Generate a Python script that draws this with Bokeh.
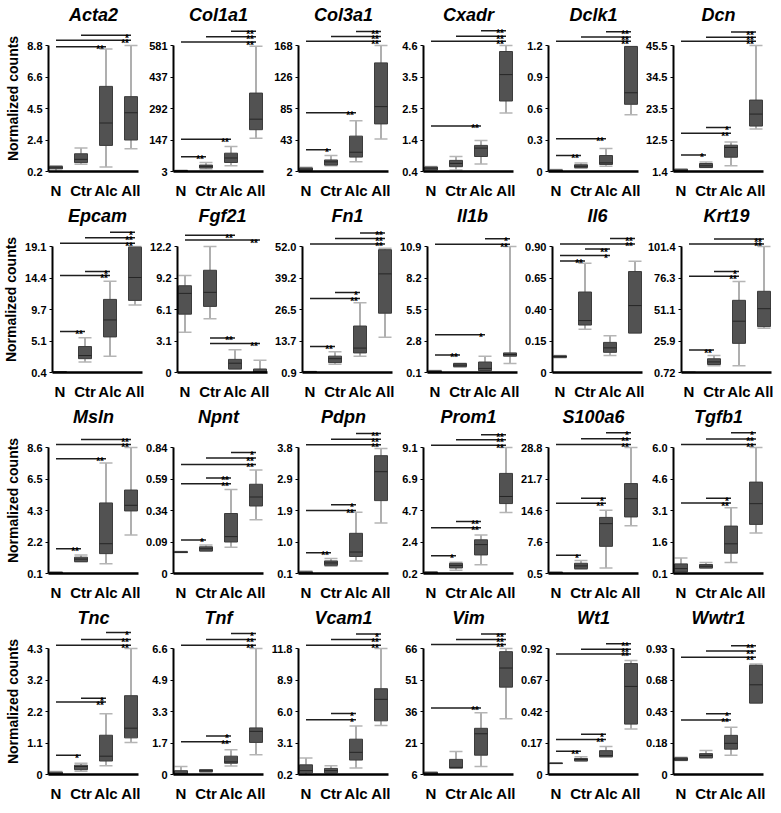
from bokeh.plotting import figure
from bokeh.layouts import column, row
from bokeh.models import FixedTicker, CustomJSTickFormatter, Range1d
from bokeh.core.properties import value
from bokeh.embed import file_html
from bokeh.resources import INLINE

groups = ["N", "Ctr", "Alc", "All"]

genes = ["Acta2", "Col1a1", "Col3a1", "Cxadr", "Dclk1", "Dcn",
         "Epcam", "Fgf21", "Fn1", "Il1b", "Il6", "Krt19",
         "Msln", "Npnt", "Pdpn", "Prom1", "S100a6", "Tgfb1",
         "Tnc", "Tnf", "Vcam1", "Vim", "Wt1", "Wwtr1"]

tick_labels = {
    "Acta2": ["0.2", "2.4", "4.5", "6.6", "8.8"],
    "Col1a1": ["3", "147", "292", "437", "581"],
    "Col3a1": ["2", "43", "85", "126", "168"],
    "Cxadr": ["0.4", "1.4", "2.5", "3.5", "4.6"],
    "Dclk1": ["0", "0.3", "0.6", "0.9", "1.2"],
    "Dcn": ["1.4", "12.5", "23.5", "34.5", "45.5"],
    "Epcam": ["0.4", "5.1", "9.7", "14.4", "19.1"],
    "Fgf21": ["0", "3.1", "6.1", "9.2", "12.2"],
    "Fn1": ["0.9", "13.7", "26.5", "39.2", "52.0"],
    "Il1b": ["0.1", "2.8", "5.5", "8.2", "10.9"],
    "Il6": ["0", "0.15", "0.40", "0.65", "0.90"],
    "Krt19": ["0.72", "25.9", "51.1", "76.3", "101.4"],
    "Msln": ["0.1", "2.2", "4.3", "6.5", "8.6"],
    "Npnt": ["0", "0.09", "0.34", "0.59", "0.84"],
    "Pdpn": ["0.1", "1.0", "1.9", "2.9", "3.8"],
    "Prom1": ["0.2", "2.4", "4.7", "6.9", "9.1"],
    "S100a6": ["0.5", "7.6", "14.6", "21.7", "28.8"],
    "Tgfb1": ["0.1", "1.6", "3.1", "4.6", "6.0"],
    "Tnc": ["0", "1.1", "2.2", "3.2", "4.3"],
    "Tnf": ["0", "1.7", "3.3", "4.9", "6.6"],
    "Vcam1": ["0.2", "3.1", "6.0", "8.9", "11.8"],
    "Vim": ["6", "21", "36", "51", "66"],
    "Wt1": ["0", "0.17", "0.42", "0.67", "0.92"],
    "Wwtr1": ["0", "0.18", "0.43", "0.68", "0.93"],
}

# box statistics per gene, in group order N, Ctr, Alc, All
whisker_low = {
    "Acta2": [0.22, 0.70, 0.51, 1.76], "Col1a1": [3, 14.8, 29.5, 155],
    "Col3a1": [2, 9.6, 14.7, 44.8], "Cxadr": [0.43, 0.45, 0.65, 2.35],
    "Dclk1": [0, 0.03, 0.05, 0.54], "Dcn": [1.4, 2.8, 3.4, 16.3],
    "Epcam": [0.4, 1.97, 2.83, 10.4], "Fgf21": [3.9, 5.2, 0.34, 0],
    "Fn1": [0.9, 4.28, 7.53, 15.2], "Il1b": [0.1, 0.57, 0.27, 0.87],
    "Il6": [0.105, 0.309, 0.121, 0.282], "Krt19": [0.72, 6.1, 6.1, 36.1],
    "Msln": [0.1, 0.9, 0.75, 2.7], "Npnt": [0.14, 0.148, 0.175, 0.359],
    "Pdpn": [0.1, 0.31, 0.47, 1.58], "Prom1": [0.2, 0.43, 0.81, 4.5],
    "S100a6": [0.5, 1.44, 1.72, 11.2], "Tgfb1": [0.175, 0.355, 0.62, 2.0],
    "Tnc": [0, 0.11, 0.3, 1.09], "Tnf": [0, 0.12, 0.45, 1.04],
    "Vcam1": [0.2, 0.26, 0.79, 4.7], "Vim": [6, 9.06, 9.8, 32.6],
    "Wt1": [0.08, 0.099, 0.129, 0.333], "Wwtr1": [0.104, 0.123, 0.142, 0.527],
}
q1 = {
    "Acta2": [0.38, 0.81, 1.98, 2.35], "Col1a1": [3, 19.2, 44.3, 194.7],
    "Col3a1": [3.3, 10.5, 21, 64.7], "Cxadr": [0.45, 0.56, 0.90, 2.75],
    "Dclk1": [0, 0.037, 0.067, 0.64], "Dcn": [1.4, 2.8, 6.4, 17.3],
    "Epcam": [0.4, 2.45, 5.68, 11.1], "Fgf21": [5.65, 6.4, 0.34, 0],
    "Fn1": [0.9, 4.93, 8.83, 24.95], "Il1b": [0.1, 0.6, 0.27, 1.5],
    "Il6": [0.108, 0.339, 0.144, 0.282], "Krt19": [0.72, 7.1, 24.0, 37.4],
    "Msln": [0.1, 0.9, 1.44, 4.32], "Npnt": [0.14, 0.15, 0.21, 0.45],
    "Pdpn": [0.1, 0.34, 0.6, 2.24], "Prom1": [0.2, 0.59, 1.51, 5.14],
    "S100a6": [0.5, 1.58, 6.6, 13.2], "Tgfb1": [0.175, 0.355, 1.05, 2.40],
    "Tnc": [0, 0.165, 0.46, 1.25], "Tnf": [0, 0.15, 0.59, 1.68],
    "Vcam1": [0.35, 0.35, 1.53, 5.14], "Vim": [6, 9.06, 15.2, 47.6],
    "Wt1": [0.081, 0.099, 0.129, 0.368], "Wwtr1": [0.104, 0.123, 0.187, 0.527],
}
median = {
    "Acta2": [0.45, 1.03, 3.51, 4.21], "Col1a1": [5, 26.6, 65, 243],
    "Col3a1": [5.0, 14.7, 27.4, 87.5], "Cxadr": [0.51, 0.67, 1.18, 3.63],
    "Dclk1": [0.008, 0.05, 0.082, 0.75], "Dcn": [1.7, 3.4, 9.8, 21.5],
    "Epcam": [0.45, 2.92, 8.2, 14.5], "Fgf21": [7.66, 7.76, 0.9, 0.09],
    "Fn1": [1.1, 6.5, 10.8, 40.9], "Il1b": [0.18, 0.73, 0.45, 1.64],
    "Il6": [0.114, 0.371, 0.176, 0.478], "Krt19": [0.8, 9.17, 41.7, 51.7],
    "Msln": [0.15, 1.07, 2.11, 4.7], "Npnt": [0.143, 0.165, 0.246, 0.51],
    "Pdpn": [0.12, 0.41, 0.73, 3.09], "Prom1": [0.25, 0.77, 2.24, 5.64],
    "S100a6": [0.65, 2.2, 11.7, 17.3], "Tgfb1": [0.33, 0.44, 1.49, 3.37],
    "Tnc": [0.033, 0.274, 0.625, 1.58], "Tnf": [0.03, 0.2, 0.66, 2.26],
    "Vcam1": [0.56, 0.56, 2.24, 7.12], "Vim": [6.6, 9.4, 25.4, 56.7],
    "Wt1": [0.082, 0.11, 0.138, 0.643], "Wwtr1": [0.114, 0.14, 0.23, 0.662],
}
q3 = {
    "Acta2": [0.55, 1.41, 6.01, 5.31], "Col1a1": [7.4, 32.5, 87, 362.8],
    "Col3a1": [6.7, 17.2, 48.6, 145.1], "Cxadr": [0.55, 0.77, 1.27, 4.40],
    "Dclk1": [0.015, 0.064, 0.152, 1.19], "Dcn": [2.2, 4.2, 10.6, 26.4],
    "Epcam": [0.5, 4.25, 11.25, 19.0], "Fgf21": [8.4, 9.9, 1.27, 0.34],
    "Fn1": [1.3, 7.53, 19.75, 50.7], "Il1b": [0.24, 0.87, 1.0, 1.78],
    "Il6": [0.119, 0.575, 0.215, 0.721], "Krt19": [0.9, 11.7, 58.4, 65.6],
    "Msln": [0.19, 1.2, 4.86, 5.73], "Npnt": [0.145, 0.178, 0.40, 0.595],
    "Pdpn": [0.15, 0.47, 1.28, 3.56], "Prom1": [0.31, 0.92, 2.58, 7.27],
    "S100a6": [0.8, 2.8, 13.1, 20.7], "Tgfb1": [0.55, 0.52, 2.32, 4.38],
    "Tnc": [0.077, 0.318, 1.34, 2.69], "Tnf": [0.2, 0.25, 0.96, 2.44],
    "Vcam1": [1.09, 0.76, 3.45, 8.1], "Vim": [7.07, 13.2, 28.0, 64.5],
    "Wt1": [0.083, 0.117, 0.174, 0.81], "Wwtr1": [0.123, 0.154, 0.289, 0.806],
}
whisker_high = {
    "Acta2": [0.60, 1.80, 8.56, 8.80], "Col1a1": [9, 44, 118, 578],
    "Col3a1": [7.5, 23.2, 68.9, 168], "Cxadr": [0.57, 0.90, 1.43, 4.60],
    "Dclk1": [0.02, 0.08, 0.22, 1.19], "Dcn": [2.2, 4.7, 11.7, 45.5],
    "Epcam": [0.5, 5.54, 13.96, 19.1], "Fgf21": [9.4, 12.2, 2.2, 1.18],
    "Fn1": [1.3, 9.35, 29.2, 51.3], "Il1b": [0.27, 0.9, 1.5, 10.9],
    "Il6": [0.121, 0.78, 0.263, 0.795], "Krt19": [0.9, 14.3, 73.4, 101.4],
    "Msln": [0.19, 1.35, 7.56, 8.6], "Npnt": [0.146, 0.19, 0.56, 0.69],
    "Pdpn": [0.17, 0.54, 1.9, 3.77], "Prom1": [0.31, 1.0, 2.92, 9.1],
    "S100a6": [0.8, 3.4, 14.7, 28.8], "Tgfb1": [0.82, 0.62, 3.18, 6.0],
    "Tnc": [0.1, 0.38, 2.07, 4.3], "Tnf": [0.42, 0.25, 1.3, 6.6],
    "Vcam1": [1.71, 1.0, 4.67, 11.8], "Vim": [7.07, 17.0, 35.4, 66],
    "Wt1": [0.084, 0.129, 0.204, 0.833], "Wwtr1": [0.128, 0.178, 0.349, 0.816],
}

# significance brackets: (group from, group to, level in axis units, stars)
significance = {
    "Acta2": [("N", "Alc", 8.71, "**"), ("N", "All", 9.15, "**"), ("Ctr", "All", 9.5, "*")],
    "Col1a1": [("N", "Ctr", 70.8, "**"), ("N", "Alc", 150.5, "**"), ("N", "All", 597, "**"),
               ("Ctr", "All", 620.8, "**"), ("Alc", "All", 646, "**")],
    "Col3a1": [("N", "Ctr", 30.8, "*"), ("N", "Alc", 79.5, "**"), ("N", "All", 173.5, "**"),
               ("Ctr", "All", 179.8, "**"), ("Alc", "All", 186.6, "**")],
    "Cxadr": [("N", "Alc", 1.92, "**"), ("N", "All", 4.74, "**"), ("Ctr", "All", 4.91, "**"),
              ("Alc", "All", 5.09, "**")],
    "Dclk1": [("N", "Ctr", 0.152, "**"), ("N", "Alc", 0.311, "**"), ("N", "All", 1.24, "**"),
              ("Ctr", "All", 1.28, "**"), ("Alc", "All", 1.33, "**")],
    "Dcn": [("N", "Ctr", 7.2, "*"), ("N", "Alc", 14.8, "**"), ("Ctr", "Alc", 16.8, "*"),
            ("N", "All", 47.0, "**"), ("Ctr", "All", 48.4, "**"), ("Alc", "All", 50.2, "**")],
    "Epcam": [("N", "Ctr", 6.49, "**"), ("N", "Alc", 14.8, "**"), ("Ctr", "Alc", 15.4, "*"),
              ("N", "All", 19.57, "**"), ("Ctr", "All", 20.4, "**"), ("Alc", "All", 21.2, "*")],
    "Fgf21": [("N", "Alc", 13.28, "**"), ("N", "All", 12.82, "**"), ("Ctr", "Alc", 3.35, "**"),
              ("Ctr", "All", 2.82, "**")],
    "Fn1": [("N", "Ctr", 11.43, "**"), ("N", "Alc", 30.9, "**"), ("Ctr", "Alc", 33.3, "*"),
            ("N", "All", 53.03, "**"), ("Ctr", "All", 55.2, "**"), ("Alc", "All", 57.5, "**")],
    "Il1b": [("N", "Ctr", 1.61, "**"), ("N", "Alc", 3.34, "*"), ("N", "All", 11.09, "**"),
             ("Alc", "All", 11.56, "*")],
    "Il6": [("N", "Ctr", 0.797, "**"), ("N", "Alc", 0.836, "*"), ("Ctr", "Alc", 0.882, "**"),
            ("N", "All", 0.918, "**"), ("Alc", "All", 0.957, "**")],
    "Krt19": [("N", "Ctr", 18.65, "**"), ("N", "Alc", 77.6, "**"), ("Ctr", "Alc", 81.5, "*"),
              ("N", "All", 103.4, "**"), ("Ctr", "All", 107.3, "**")],
    "Msln": [("N", "Ctr", 1.77, "**"), ("N", "Alc", 7.84, "**"), ("N", "All", 8.8, "**"),
             ("Ctr", "All", 9.14, "**")],
    "Npnt": [("N", "Ctr", 0.224, "*"), ("N", "Alc", 0.598, "**"), ("Ctr", "Alc", 0.637, "**"),
             ("N", "All", 0.727, "**"), ("Ctr", "All", 0.77, "**"), ("Alc", "All", 0.806, "*")],
    "Pdpn": [("N", "Ctr", 0.71, "**"), ("N", "Alc", 1.95, "**"), ("Ctr", "Alc", 2.12, "*"),
             ("N", "All", 3.88, "**"), ("Ctr", "All", 4.04, "**"), ("Alc", "All", 4.21, "**")],
    "Prom1": [("N", "Ctr", 1.45, "*"), ("N", "Alc", 3.44, "**"), ("Ctr", "Alc", 3.87, "**"),
              ("N", "All", 9.26, "**"), ("Ctr", "All", 9.64, "**"), ("Alc", "All", 10.0, "**")],
    "S100a6": [("N", "Ctr", 4.6, "*"), ("N", "Alc", 16.3, "**"), ("Ctr", "Alc", 17.4, "*"),
               ("N", "All", 29.45, "**"), ("Ctr", "All", 30.75, "**"), ("Alc", "All", 32.1, "*")],
    "Tgfb1": [("N", "Alc", 3.40, "**"), ("Ctr", "Alc", 3.62, "*"), ("N", "All", 6.14, "**"),
              ("Ctr", "All", 6.4, "**"), ("Alc", "All", 6.69, "*")],
    "Tnc": [("N", "Ctr", 0.66, "*"), ("N", "Alc", 2.47, "**"), ("Ctr", "Alc", 2.6, "*"),
            ("N", "All", 4.41, "**"), ("Ctr", "All", 4.61, "**"), ("Alc", "All", 4.85, "*")],
    "Tnf": [("N", "Alc", 1.72, "**"), ("Ctr", "Alc", 2.02, "*"), ("N", "All", 6.77, "**"),
            ("Ctr", "All", 7.07, "**"), ("Alc", "All", 7.39, "*")],
    "Vcam1": [("N", "Alc", 5.23, "*"), ("Ctr", "Alc", 5.82, "*"), ("N", "All", 12.1, "**"),
              ("Ctr", "All", 12.63, "**"), ("Alc", "All", 13.13, "*")],
    "Vim": [("N", "Alc", 37.7, "**"), ("N", "All", 67.9, "**"), ("Ctr", "All", 70.3, "**"),
            ("Alc", "All", 72.9, "**")],
    "Wt1": [("N", "Ctr", 0.169, "**"), ("N", "Alc", 0.256, "**"), ("Ctr", "Alc", 0.293, "*"),
            ("N", "All", 0.88, "**"), ("Ctr", "All", 0.915, "**"), ("Alc", "All", 0.955, "**")],
    "Wwtr1": [("N", "Alc", 0.403, "**"), ("Ctr", "Alc", 0.448, "*"), ("N", "All", 0.866, "**"),
              ("Ctr", "All", 0.911, "**"), ("Alc", "All", 0.951, "**")],
}

FONT = "Liberation Sans"
DATA_PX = 126
EXTRA_PX = 20
FRAME_W = 90
BOX_W = 0.52


def make_panel(gene, first_col):
    labels = tick_labels[gene]
    lo, hi = float(labels[0]), float(labels[-1])
    span = hi - lo
    top = hi + span * EXTRA_PX / DATA_PX
    p = figure(frame_width=FRAME_W, frame_height=DATA_PX + EXTRA_PX,
               x_range=Range1d(-0.3, 3.3), y_range=Range1d(lo, top),
               output_backend="svg", toolbar_location=None, title=gene,
               min_border_left=48 if first_col else 33, min_border_right=2,
               min_border_top=25, min_border_bottom=28)
    p.outline_line_color = None
    p.grid.visible = False
    p.background_fill_color = "white"
    p.border_fill_color = "white"

    p.title.text_font = FONT
    p.title.text_font_style = "bold italic"
    p.title.text_font_size = "18px"
    p.title.align = "center"
    p.title.text_color = "black"
    p.title.standoff = 1

    ya = p.yaxis[0]
    ya.bounds = (lo, hi)
    ya.ticker = FixedTicker(ticks=[lo + k * span / 4 for k in range(5)])
    ya.formatter = CustomJSTickFormatter(args=dict(labels=labels), code="return labels[index];")
    ya.axis_line_width = 2
    ya.axis_line_color = "black"
    ya.major_tick_out = 3
    ya.major_tick_in = 0
    ya.major_tick_line_color = "black"
    ya.minor_tick_line_color = None
    ya.major_label_text_font = FONT
    ya.major_label_text_font_style = "bold"
    ya.major_label_text_font_size = "11px"
    ya.major_label_text_color = "black"
    ya.major_label_standoff = 3
    if first_col:
        ya.axis_label = "Normalized counts"
        ya.axis_label_text_font = FONT
        ya.axis_label_text_font_style = "bold"
        ya.axis_label_text_font_size = "14px"
        ya.axis_label_text_color = "black"
        ya.axis_label_standoff = 3

    xa = p.xaxis[0]
    xa.ticker = FixedTicker(ticks=[0, 1, 2, 3])
    xa.major_label_overrides = {i: g for i, g in enumerate(groups)}
    xa.axis_line_width = 2.5
    xa.axis_line_color = "black"
    xa.major_tick_line_color = None
    xa.minor_tick_line_color = None
    xa.major_label_text_font = FONT
    xa.major_label_text_font_style = "bold"
    xa.major_label_text_font_size = "15px"
    xa.major_label_text_color = "black"
    xa.major_label_standoff = 4

    xs = list(range(len(groups)))
    wl, b1, md, b3, wh = (whisker_low[gene], q1[gene], median[gene], q3[gene], whisker_high[gene])
    left = [x - BOX_W / 2 for x in xs]
    right = [x + BOX_W / 2 for x in xs]

    p.segment(x0=xs, y0=b3, x1=xs, y1=wh, line_color="#7a7a7a", line_width=1.2)
    p.segment(x0=xs, y0=wl, x1=xs, y1=b1, line_color="#7a7a7a", line_width=1.2)
    p.segment(x0=left, y0=wh, x1=right, y1=wh, line_color="#b5b5b5", line_width=1.5)
    p.segment(x0=left, y0=wl, x1=right, y1=wl, line_color="#b5b5b5", line_width=1.5)
    p.vbar(x=xs, width=BOX_W, bottom=b1, top=b3, fill_color="#525252",
           line_color="#3c3c3c", line_width=1)
    p.segment(x0=left, y0=md, x1=right, y1=md, line_color="#262626", line_width=1)

    sig = significance[gene]
    sx0 = [groups.index(a) for a, b, y, s in sig]
    sx1 = [groups.index(b) for a, b, y, s in sig]
    sy = [y for a, b, y, s in sig]
    st = [s for a, b, y, s in sig]
    p.segment(x0=sx0, y0=sy, x1=sx1, y1=sy, line_color="#1e1e1e", line_width=1.5)
    p.text(x=sx1, y=sy, text=st, text_align="right", text_baseline="alphabetic",
           x_offset=-2, y_offset=3, text_font=value(FONT), text_font_style="bold",
           text_font_size="10px", text_color="#000000")
    return p


figs = [make_panel(g, i % 6 == 0) for i, g in enumerate(genes)]
layout = column(*[row(*figs[r * 6:(r + 1) * 6]) for r in range(4)])

open("out.html", "w").write(file_html(layout, INLINE))
